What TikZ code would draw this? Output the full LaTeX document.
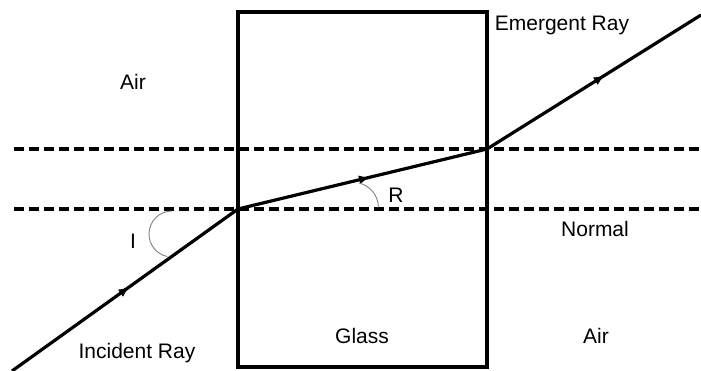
\documentclass[tikz,border=0pt]{standalone}
\usepackage{fontspec}
\setmainfont{Liberation Sans}
\usetikzlibrary{decorations.markings,arrows.meta}
\begin{document}
\begin{tikzpicture}[x=1pt,y=-1pt,
  ray/.style={line width=3.2pt,
    postaction={decorate,decoration={markings,mark=at position #1 with {\arrow{Latex[length=11pt,width=9pt]}}}}},
  ray/.default=0.52,
  boundary/.style={line width=3.2pt},
  normalline/.style={line width=3.2pt,dash pattern=on 10pt off 5pt},
  anglearc/.style={gray,line width=0.9pt},
  lbl/.style={font=\fontsize{21}{25}\selectfont,inner sep=0pt}]
\useasboundingbox (0,0) rectangle (701,371);
% glass block
\node[boundary,draw,minimum width=249pt,minimum height=355pt,inner sep=0pt] (glass) at (362.5,189.5) {};
% normals
\coordinate (n1l) at (14,149);
\coordinate (n1r) at (701,149);
\coordinate (n2l) at (14,209);
\coordinate (n2r) at (701,209);
\draw[normalline] (n1l) -- (n1r);
\draw[normalline] (n2l) -- (n2r);
% ray points
\coordinate (A) at (12,371);
\coordinate (B) at (238,209);
\coordinate (C) at (487,149);
\coordinate (D) at (701,15);
\draw[ray=0.52] (A) -- (B);
\draw[ray=0.53] (B) -- (C);
\draw[ray=0.55] (C) -- (D);
% angle arcs
\draw[anglearc] (172,211) arc[start angle=-90,end angle=-258,radius=23];
\draw[anglearc] (359,183) arc[start angle=-77,end angle=0,radius=25];
% labels
\node[lbl] (air1) at (133,82) {Air};
\node[lbl] (emer) at (562,25) {Emergent Ray};
\node[lbl] (rl) at (396,195) {R};
\node[lbl] (il) at (133,241) {I};
\node[lbl] (norm) at (595,229) {Normal};
\node[lbl] (glasslbl) at (362,336) {Glass};
\node[lbl] (air2) at (596,336) {Air};
\node[lbl] (inc) at (137,353) {Incident Ray};
\end{tikzpicture}
\end{document}
